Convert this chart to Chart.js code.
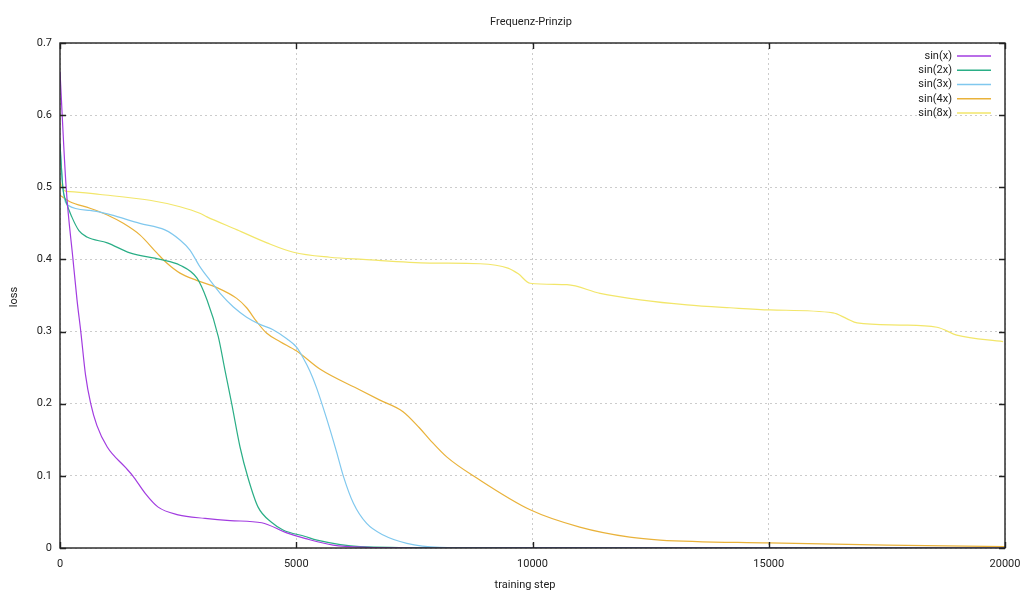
<!DOCTYPE html>
<html><head><meta charset="utf-8">
<script src="https://cdn.jsdelivr.net/npm/chart.js@4/dist/chart.umd.min.js"></script>
<style>html,body{margin:0;padding:0;background:#fff}#wrap{width:1024px;height:595px}</style>
</head><body><div id="wrap"><canvas id="c" width="1024" height="595"></canvas></div>
<script>
const chartTitle = 'Frequenz-Prinzip';
const xTitle = 'training step';
const yTitle = 'loss';
const seriesNames = ['sin(x)', 'sin(2x)', 'sin(3x)', 'sin(4x)', 'sin(8x)'];
const seriesColors = ['#a23ce0', '#2aae86', '#80c8ee', '#e9b23a', '#f2e66a'];
const xTicks = [0, 5000, 10000, 15000, 20000];
const yTicks = [0, 0.1, 0.2, 0.3, 0.4, 0.5, 0.6, 0.7];

const sin1Steps = [0, 130, 275, 360, 440, 540, 650, 780, 1000, 1380, 1540, 1800, 2070, 2500, 3070, 3600, 4270, 4800, 5200, 5780, 6500, 8000, 20000];
const sin1Loss  = [0.66, 0.5, 0.4, 0.344, 0.3, 0.24, 0.2, 0.17, 0.14, 0.112, 0.1, 0.076, 0.057, 0.046, 0.041, 0.038, 0.035, 0.021, 0.013, 0.004, 0.001, 0, 0];

const sin2Steps = [0, 60, 130, 250, 400, 570, 1000, 1480, 2120, 2540, 2900, 3110, 3350, 3490, 3640, 3810, 3980, 4190, 4490, 4720, 5190, 5440, 6350, 8000, 20000];
const sin2Loss  = [0.56, 0.5, 0.48, 0.459, 0.44, 0.431, 0.423, 0.409, 0.4, 0.392, 0.374, 0.344, 0.293, 0.247, 0.198, 0.14, 0.097, 0.057, 0.035, 0.025, 0.016, 0.011, 0.002, 0.0005, 0];

const sin3Steps = [0, 60, 170, 630, 1060, 1690, 2220, 2540, 2750, 2960, 3175, 3390, 3670, 3950, 4230, 4500, 4800, 5010, 5150, 5290, 5430, 5640, 5850, 6000, 6210, 6490, 6840, 7340, 8040, 9000, 20000];
const sin3Loss  = [0.56, 0.5, 0.475, 0.468, 0.462, 0.45, 0.441, 0.427, 0.413, 0.39, 0.371, 0.353, 0.334, 0.32, 0.31, 0.303, 0.29, 0.278, 0.263, 0.245, 0.222, 0.18, 0.134, 0.099, 0.062, 0.034, 0.018, 0.0065, 0.001, 0.0003, 0];

const sin4Steps = [0, 210, 635, 990, 1340, 1690, 2050, 2260, 2540, 2890, 3320, 3740, 3950, 4160, 4370, 4660, 5010, 5500, 6350, 6770, 7260, 7600, 7830, 8190, 8820, 9950, 11000, 12060, 12700, 15000, 17500, 20000];
const sin4Loss  = [0.489, 0.48, 0.471, 0.462, 0.45, 0.434, 0.409, 0.395, 0.381, 0.371, 0.361, 0.346, 0.333, 0.314, 0.298, 0.286, 0.273, 0.248, 0.219, 0.205, 0.189, 0.167, 0.15, 0.126, 0.097, 0.053, 0.029, 0.015, 0.011, 0.007, 0.004, 0.002];

const sin8Steps = [0, 100, 210, 850, 1900, 2540, 2960, 3110, 3750, 4380, 4940, 5710, 6410, 7830, 8890, 9480, 9700, 9950, 10730, 11430, 12280, 13270, 14180, 15030, 16360, 16650, 16870, 17780, 18560, 18980, 19960];
const sin8Loss  = [0.507, 0.495, 0.494, 0.49, 0.482, 0.473, 0.464, 0.459, 0.441, 0.423, 0.41, 0.403, 0.4, 0.395, 0.394, 0.388, 0.38, 0.367, 0.365, 0.353, 0.344, 0.337, 0.333, 0.33, 0.326, 0.318, 0.312, 0.309, 0.306, 0.295, 0.286];

const allSteps = [sin1Steps, sin2Steps, sin3Steps, sin4Steps, sin8Steps];
const allLoss = [sin1Loss, sin2Loss, sin3Loss, sin4Loss, sin8Loss];

const FONT = 'Roboto, "DejaVu Sans", sans-serif';
const textColor = '#222';

const datasets = seriesNames.map((name, i) => ({
  label: name,
  data: allSteps[i].map((s, j) => ({ x: s, y: allLoss[i][j] })),
  borderColor: seriesColors[i],
  backgroundColor: seriesColors[i],
  borderWidth: 1.2,
  pointRadius: 0,
  fill: false,
  cubicInterpolationMode: 'monotone'
}));

const framePlugin = {
  id: 'frame',
  afterDatasetsDraw(chart) {
    const { ctx, chartArea: a, scales: { x, y } } = chart;
    ctx.save();
    ctx.strokeStyle = '#222';
    ctx.lineWidth = 1.4;
    ctx.beginPath();
    xTicks.forEach(v => {
      const px = Math.round(x.getPixelForValue(v)) + 0.5;
      ctx.moveTo(px, a.bottom); ctx.lineTo(px, a.bottom - 6);
      ctx.moveTo(px, a.top); ctx.lineTo(px, a.top + 6);
    });
    yTicks.forEach(v => {
      const py = Math.round(y.getPixelForValue(v)) + 0.5;
      ctx.moveTo(a.left, py); ctx.lineTo(a.left + 6, py);
      ctx.moveTo(a.right, py); ctx.lineTo(a.right - 6, py);
    });
    ctx.stroke();
    ctx.strokeRect(a.left, a.top, a.right - a.left, a.bottom - a.top);

    // legend (gnuplot style: text then line sample)
    ctx.font = '11px ' + FONT;
    ctx.textBaseline = 'middle';
    ctx.textAlign = 'right';
    seriesNames.forEach((name, i) => {
      const yy = a.top + 13 + i * 14.25;
      ctx.fillStyle = textColor;
      ctx.fillText(name, 952, yy);
      ctx.strokeStyle = seriesColors[i];
      ctx.lineWidth = 1.3;
      ctx.beginPath();
      ctx.moveTo(957, yy); ctx.lineTo(991, yy);
      ctx.stroke();
    });

    // titles
    ctx.fillStyle = textColor;
    ctx.textAlign = 'center';
    ctx.fillText(chartTitle, 531, 22);
    ctx.fillText(xTitle, 525, 585);
    ctx.save();
    ctx.translate(14, 297);
    ctx.rotate(-Math.PI / 2);
    ctx.fillText(yTitle, 0, 0);
    ctx.restore();
    ctx.restore();
  }
};

new Chart(document.getElementById('c'), {
  type: 'line',
  data: { datasets },
  options: {
    responsive: false,
    animation: false,
    devicePixelRatio: 1,
    layout: { padding: { top: 43, right: 19, left: 0, bottom: 0 } },
    plugins: { legend: { display: false }, title: { display: false }, tooltip: { enabled: false } },
    scales: {
      x: {
        type: 'linear', min: 0, max: 20000,
        afterBuildTicks: s => { s.ticks = xTicks.map(v => ({ value: v })); },
        afterFit: s => { s.height = 47; s.paddingLeft = 0; s.paddingRight = 0; },
        ticks: { font: { family: FONT, size: 11 }, color: textColor, padding: 10, maxRotation: 0, autoSkip: false, callback: v => String(v) },
        grid: { color: '#cccccc', lineWidth: 1, drawTicks: false },
        border: { display: false, dash: [2, 3] }
      },
      y: {
        type: 'linear', min: 0, max: 0.7,
        afterBuildTicks: s => { s.ticks = yTicks.map(v => ({ value: v })); },
        afterFit: s => { s.width = 60; s.paddingTop = 0; s.paddingBottom = 0; },
        ticks: { font: { family: FONT, size: 11 }, color: textColor, padding: 8, autoSkip: false, callback: v => String(Number(v.toFixed(1))) },
        grid: { color: '#cccccc', lineWidth: 1, drawTicks: false },
        border: { display: false, dash: [2, 3] }
      }
    }
  },
  plugins: [framePlugin]
});
</script>
</body></html>
